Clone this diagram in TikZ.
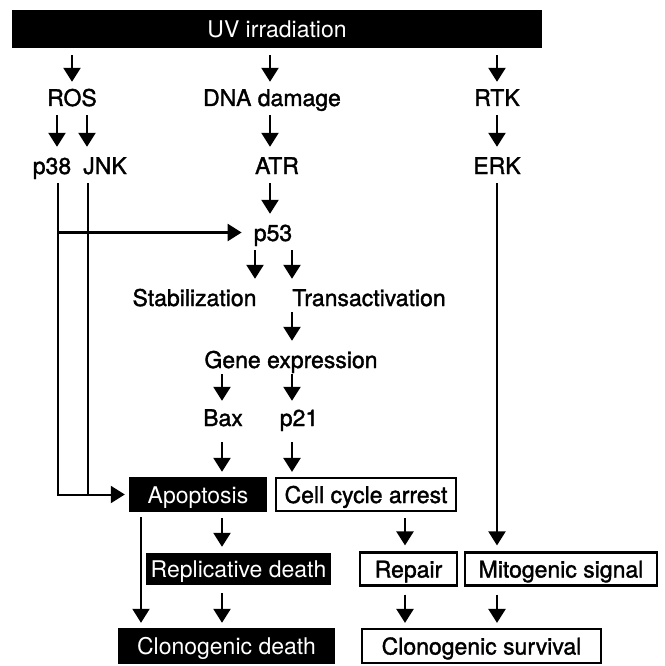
\documentclass[tikz,border=0pt]{standalone}
\usepackage{fontspec}
\setmainfont{TeX Gyre Heros}
% slightly heavier face for the black labels
\newfontfamily\inkfont[BoldFont={TeX Gyre Heros}, BoldFeatures={FakeBold=1.5}]{TeX Gyre Heros}
\usetikzlibrary{arrows.meta, positioning}

\tikzset{
	lbl/.style={inner sep=0pt, text height=17pt, text depth=0pt, font=\fontsize{23}{28}\inkfont\bfseries},
	darkbox/.style={lbl, fill=black, text=white, font=\fontsize{23}{28}\selectfont, minimum height=35pt},
	openbox/.style={lbl, draw, line width=2.2pt, fill=white, minimum height=33pt},
	arr/.style={-{Triangle[width=17pt,length=14pt]}, line width=2.4pt, shorten <=9pt, shorten >=10pt},
	longarr/.style={arr, line width=2pt},
}

\begin{document}
\begin{tikzpicture}[x=1pt,y=-1pt]
	\useasboundingbox (0,0) rectangle (664,666);
	
	\node[darkbox, minimum width=530pt, minimum height=38pt] (uv) at (277,29) {UV irradiation};
	
	\node[lbl] (ros) at (72,97.5) {ROS};
	\node[lbl] (dna) at (272,97.5) {DNA damage};
	\node[lbl] (rtk) at (497,97.5) {RTK};
	
	\node[lbl] (p38) at (52,165.5) {p38};
	\node[lbl] (jnk) at (105,165.5) {JNK};
	\node[lbl] (atr) at (277,165.5) {ATR};
	\node[lbl] (erk) at (497,165.5) {ERK};
	
	\node[lbl] (p53) at (273,232.5) {p53};
	\node[lbl] (stab) at (194.5,297.5) {Stabilization};
	\node[lbl] (trans) at (369,297.5) {Transactivation};
	\node[lbl] (gene) at (291,359.5) {Gene expression};
	\node[lbl] (bax) at (223,417.5) {Bax};
	\node[lbl] (p21) at (299,417.5) {p21};
	
	\node[darkbox, minimum width=138pt] (apop) at (198,494.5) {Apoptosis};
	\node[openbox, minimum width=180pt] (arrest) at (366,494.5) {Cell cycle arrest};
	\node[darkbox, minimum width=185pt, minimum height=32pt] (repl) at (238.5,569) {Replicative death};
	\node[openbox, minimum width=97pt] (repair) at (408.5,569) {Repair};
	\node[openbox, minimum width=192pt] (mito) at (561,569) {Mitogenic signal};
	\node[darkbox, minimum width=217pt, minimum height=36pt] (cdeath) at (226.5,646) {Clonogenic death};
	\node[openbox, minimum width=239pt, minimum height=34pt] (csurv) at (481.5,646) {Clonogenic survival};
	
	% columns of the lower arrows
	\coordinate (colL) at (222,0);
	\coordinate (colR) at (292,0);
	\coordinate (colS) at (405,0);
	
	\draw[arr, shorten >=7pt, shorten <=7pt] (uv.south -| ros) -- (ros.north);
	\draw[arr, shorten >=7pt, shorten <=7pt] ([xshift=-2pt]uv.south -| dna) -- ([xshift=-2pt]dna.north);
	\draw[arr, shorten >=7pt, shorten <=7pt] (uv.south -| rtk) -- (rtk.north);
	
	\draw[arr] ([xshift=-15pt]ros.south) -- ([xshift=-15pt]ros.south |- p38.north);
	\draw[arr] ([xshift=15pt]ros.south) -- ([xshift=15pt]ros.south |- jnk.north);
	\draw[arr] ([xshift=-2pt]dna.south) -- ([xshift=-2pt]dna.south |- atr.north);
	\draw[arr] (rtk.south) -- (erk.north);
	\draw[arr] ([xshift=-7pt]atr.south) -- ([xshift=-7pt]atr.south |- p53.north);
	
	% p38 and JNK down to apoptosis, p38 also into p53
	\draw[longarr, shorten >=4pt] ([xshift=6pt]p38.south) |- (apop.west);
	\draw[line width=2pt, shorten <=9pt] ([xshift=-17pt]jnk.south) -- ([xshift=-17pt]jnk.south |- apop.west);
	\draw[arr, shorten <=0pt, shorten >=12pt] ([xshift=6pt]p38.south |- p53.west) -- (p53.west);
	
	\draw[arr] ([xshift=-18pt]p53.south) -- ([xshift=-18pt]p53.south |- stab.north);
	\draw[arr] ([xshift=19pt]p53.south) -- ([xshift=19pt]p53.south |- trans.north);
	\draw[arr, shorten <=6pt] (trans.south -| colR) -- (gene.north -| colR);
	\draw[arr, shorten <=6pt, shorten >=8pt] (gene.south -| colL) -- (bax.north -| colL);
	\draw[arr, shorten <=6pt, shorten >=8pt] (gene.south -| colR) -- (p21.north -| colR);
	\draw[arr, shorten <=16pt, shorten >=5pt] (bax.south -| colL) -- (apop.north -| colL);
	\draw[arr, shorten <=16pt, shorten >=5pt] (p21.south -| colR) -- (arrest.north -| colR);
	
	\draw[arr, shorten <=6pt, shorten >=6pt] (apop.south -| colL) -- (repl.north -| colL);
	\draw[arr, shorten <=6pt, shorten >=6pt] (arrest.south -| colS) -- (repair.north -| colS);
	\draw[longarr, shorten >=6pt] (erk.south) -- (mito.north -| erk);
	
	\draw[longarr, shorten <=5pt, shorten >=5pt] ([xshift=-57pt]apop.south) -- ([xshift=-57pt]apop.south |- cdeath.north);
	\draw[arr, shorten <=8pt, shorten >=5pt] (repl.south -| colL) -- (cdeath.north -| colL);
	\draw[arr, shorten <=8pt, shorten >=5pt] (repair.south -| colS) -- (csurv.north -| colS);
	\draw[arr, shorten <=8pt, shorten >=5pt] (mito.south -| erk) -- (csurv.north -| erk);
\end{tikzpicture}
\end{document}
